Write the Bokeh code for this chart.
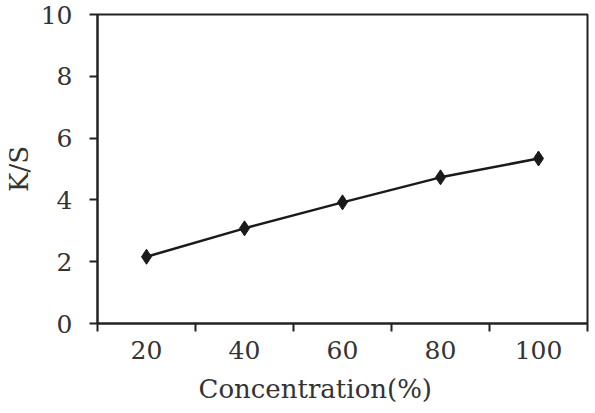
from bokeh.plotting import figure
from bokeh.models import FixedTicker, Range1d
from bokeh.embed import file_html
from bokeh.resources import INLINE

# Dye concentration (%) and the resulting colour strength K/S
concentration = [20, 40, 60, 80, 100]
ks_values = [2.16, 3.08, 3.92, 4.73, 5.34]
y_ticks = [0, 2, 4, 6, 8, 10]
# category boundaries, where the x tick marks sit
x_boundaries = [10, 30, 50, 70, 90, 110]

FONT = "DejaVu Serif"
TEXT = "#333333"
INK = "#222222"

p = figure(
    width=595, height=413,
    output_backend="svg", toolbar_location=None,
    x_range=Range1d(10, 110), y_range=Range1d(0, 10),
    min_border_left=96, min_border_right=8,
    min_border_top=14, min_border_bottom=90,
    title="Concentration(%)", title_location="below",
)

p.line(concentration, ks_values, line_color="#1a1a1a", line_width=2.5)
p.scatter(concentration, ks_values, marker="diamond", size=15,
          fill_color="#1a1a1a", line_color="#1a1a1a")

p.grid.visible = False
p.outline_line_color = INK
p.outline_line_width = 2
p.background_fill_color = "white"
p.border_fill_color = "white"

# x axis title sits below the tick labels, a little left of centre
p.title.text_font = FONT
p.title.text_font_size = "26px"
p.title.text_font_style = "normal"
p.title.text_color = TEXT
p.title.align = "left"
p.title.offset = 101
p.title.standoff = 20

# x axis: labels centred on each category, tick marks between them
xa = p.xaxis[0]
xa.ticker = FixedTicker(ticks=concentration, minor_ticks=x_boundaries)
xa.major_tick_out = 0
xa.major_tick_in = 0
xa.minor_tick_out = 8
xa.minor_tick_in = 0
xa.minor_tick_line_color = INK
xa.minor_tick_line_width = 2
xa.axis_line_color = INK
xa.axis_line_width = 2
xa.major_label_text_font = FONT
xa.major_label_text_font_size = "25px"
xa.major_label_text_color = TEXT
xa.major_label_standoff = 9

ya = p.yaxis[0]
ya.ticker = FixedTicker(ticks=y_ticks, minor_ticks=[])
ya.major_tick_out = 8
ya.major_tick_in = 0
ya.major_tick_line_color = INK
ya.major_tick_line_width = 2
ya.axis_line_color = INK
ya.axis_line_width = 2
ya.major_label_text_font = FONT
ya.major_label_text_font_size = "25px"
ya.major_label_text_color = TEXT
ya.major_label_standoff = 17
ya.axis_label = "K/S"
ya.axis_label_text_font = FONT
ya.axis_label_text_font_size = "26px"
ya.axis_label_text_font_style = "normal"
ya.axis_label_text_color = TEXT
ya.axis_label_standoff = 4

open("out.html", "w").write(file_html(p, INLINE))
